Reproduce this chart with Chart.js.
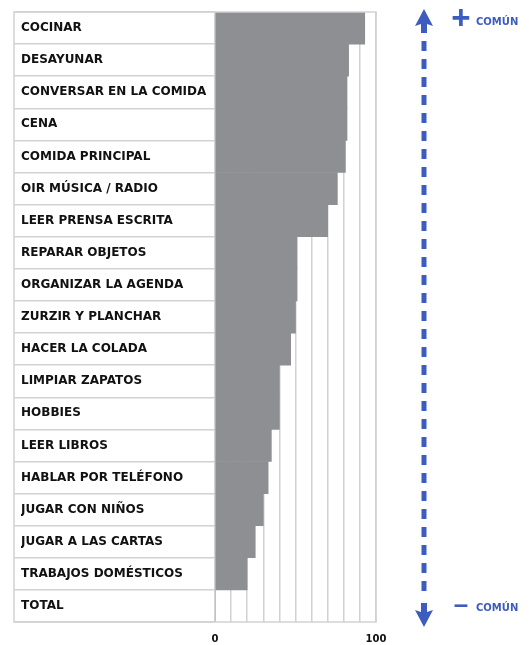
<!DOCTYPE html>
<html>
<head>
<meta charset="utf-8">
<script src="https://cdn.jsdelivr.net/npm/chart.js@4"></script>
<style>
  body { margin: 0; background: #fff; }
  #chartWrap { width: 529px; height: 645px; }
</style>
</head>
<body>
<div id="chartWrap"><canvas id="myChart" width="529" height="645"></canvas></div>
<script>
// actividades (de mas comun a menos comun)
let activityLabels = [
    'COCINAR', 'DESAYUNAR', 'CONVERSAR EN LA COMIDA', 'CENA', 'COMIDA PRINCIPAL',
    'OIR MÚSICA / RADIO', 'LEER PRENSA ESCRITA', 'REPARAR OBJETOS', 'ORGANIZAR LA AGENDA',
    'ZURZIR Y PLANCHAR', 'HACER LA COLADA', 'LIMPIAR ZAPATOS', 'HOBBIES', 'LEER LIBROS',
    'HABLAR POR TELÉFONO', 'JUGAR CON NIÑOS', 'JUGAR A LAS CARTAS', 'TRABAJOS DOMÉSTICOS', 'TOTAL'
];
let activityValues = [93, 83, 82, 82, 81, 76, 70, 51, 51, 50, 47, 40, 40, 35, 33, 30, 25, 20, 0];
let axisTickLabels = ['0', '100'];
let arrowTexts = ['+', 'COMÚN', '–', 'COMÚN'];

let gridColor = '#d2d2d2';
let barColor = '#8d8f93';
let arrowColor = '#3d5cbf';
let labelFont = '"DejaVu Sans", Verdana, sans-serif';

// marco exterior de la tabla
let framePlugin = {
    id: 'frame',
    afterDraw: function(chart){
        let ctx = chart.ctx;
        let area = chart.chartArea;
        ctx.save();
        ctx.strokeStyle = gridColor;
        ctx.lineWidth = 1.5;
        ctx.strokeRect(14, area.top, area.right - 14, area.bottom - area.top);
        ctx.restore();
    }
};

function drawHead(ctx, ax, tipY, dir)
{
    // dir = 1 apunta arriba, -1 apunta abajo
    ctx.beginPath();
    ctx.moveTo(ax, tipY);
    ctx.lineTo(ax + 9, tipY + dir * 17);
    ctx.lineTo(ax + 3, tipY + dir * 15);
    ctx.lineTo(ax + 3, tipY + dir * 24);
    ctx.lineTo(ax - 3, tipY + dir * 24);
    ctx.lineTo(ax - 3, tipY + dir * 15);
    ctx.lineTo(ax - 9, tipY + dir * 17);
    ctx.closePath();
    ctx.fill();
}

// flecha azul punteada de la derecha
let arrowPlugin = {
    id: 'arrowSide',
    afterDraw: function(chart){
        let ctx = chart.ctx;
        let ax = 424;
        let top = 9;
        let bottom = 627;
        ctx.save();
        ctx.fillStyle = arrowColor;
        ctx.strokeStyle = arrowColor;

        drawHead(ctx, ax, top, 1);
        drawHead(ctx, ax, bottom, -1);

        // trazo punteado
        ctx.lineWidth = 5;
        ctx.setLineDash([10, 8]);
        ctx.beginPath();
        ctx.moveTo(ax, top + 32);
        ctx.lineTo(ax, bottom - 32);
        ctx.stroke();
        ctx.setLineDash([]);

        ctx.textBaseline = 'middle';
        ctx.textAlign = 'center';
        ctx.font = 'bold 33px "Liberation Sans", Arial, sans-serif';
        ctx.fillText(arrowTexts[0], 461, 20);
        ctx.font = 'bold 26px "Liberation Sans", Arial, sans-serif';
        ctx.fillText(arrowTexts[2], 461, 606);
        ctx.textAlign = 'left';
        ctx.font = 'bold 10px ' + labelFont;
        ctx.fillText(arrowTexts[1], 476, 22);
        ctx.fillText(arrowTexts[3], 476, 608);
        ctx.restore();
    }
};

function drawActivityChart()
{
    let ctx = document.getElementById('myChart');
    new Chart(ctx, {
        type: 'bar',
        data: {
            labels: activityLabels,
            datasets: [{
                data: activityValues,
                backgroundColor: barColor,
                borderWidth: 0,
                barPercentage: 1,
                categoryPercentage: 1
            }]
        },
        options: {
            indexAxis: 'y',
            responsive: false,
            animation: false,
            devicePixelRatio: 1,
            layout: { padding: { left: 21, right: 153, top: 12, bottom: 0 } },
            plugins: { legend: { display: false }, tooltip: { enabled: false } },
            scales: {
                x: {
                    min: 0,
                    max: 100,
                    afterFit: function(scale){ scale.height = 23; },
                    grid: { color: gridColor, lineWidth: 1.5, drawTicks: false },
                    border: { display: false },
                    ticks: {
                        stepSize: 10,
                        padding: 11,
                        autoSkip: false,
                        maxRotation: 0,
                        color: '#111',
                        font: { family: labelFont, size: 10, weight: 'bold' },
                        callback: function(value){
                            if (value === 0) return axisTickLabels[0];
                            if (value === 100) return axisTickLabels[1];
                            return '';
                        }
                    }
                },
                y: {
                    afterFit: function(scale){ scale.width = 194; },
                    grid: { color: gridColor, lineWidth: 1.5, drawOnChartArea: false, tickLength: 201 },
                    border: { color: gridColor, width: 1.5 },
                    ticks: {
                        crossAlign: 'far',
                        autoSkip: false,
                        color: '#111',
                        font: { family: labelFont, size: 12, weight: 'bold' }
                    }
                }
            }
        },
        plugins: [framePlugin, arrowPlugin]
    });
}

drawActivityChart();
</script>
</body>
</html>
